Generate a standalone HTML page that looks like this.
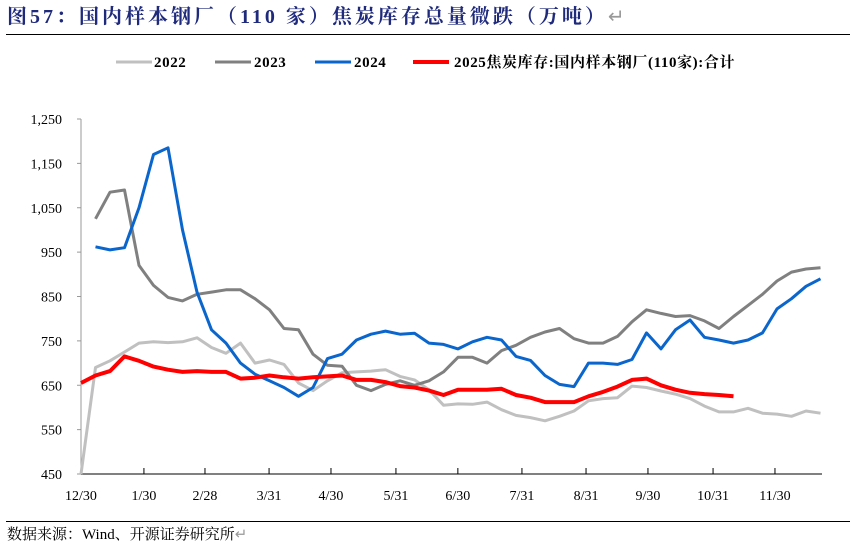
<!DOCTYPE html>
<html><head><meta charset="utf-8"><style>
body{margin:0;background:#fff;width:856px;height:545px;overflow:hidden;font-family:"Liberation Serif","Noto Serif CJK SC",serif}
#title{position:absolute;left:7px;top:0px;font-size:20px;font-weight:bold;color:#1f2a7c;white-space:nowrap;letter-spacing:3px}
#rule1{position:absolute;left:6px;top:34px;width:844px;height:1px;background:#000}
#rule2{position:absolute;left:6px;top:521px;width:844px;height:1px;background:#000}
#src{position:absolute;left:7px;top:523px;font-size:15px;color:#000;white-space:nowrap}
</style></head><body>
<div id="title">图57：国内样本钢厂（110 家）焦炭库存总量微跌（万吨）<span style="color:#999;font-weight:normal">↵</span></div>
<div id="rule1"></div>
<svg id="chart" width="856" height="545" style="position:absolute;left:0;top:0"></svg>
<div id="rule2"></div>
<div id="src">数据来源：Wind、开源证券研究所<span style="color:#999">↵</span></div>
<script>
const s2022=[450,690,705,725,745,748,746,748,757,735,722,745,700,707,697,655,638,660,678,680,682,685,670,662,640,605,608,607,612,595,582,577,570,580,592,615,620,622,648,645,637,630,620,603,590,590,598,587,585,580,592,587];
const s2023=[null,1025,1085,1090,920,875,848,840,855,860,865,865,845,820,778,775,720,695,693,650,638,652,660,650,660,680,713,713,700,728,740,758,770,778,755,745,745,760,793,820,812,805,807,795,778,805,830,855,885,905,912,915];
const s2024=[null,962,955,960,1050,1170,1185,1000,860,775,745,700,675,660,645,625,645,710,720,752,765,772,765,767,745,742,732,748,758,752,715,706,672,652,647,700,700,697,708,768,732,775,797,758,752,745,752,768,822,845,873,890];
const s2025=[655,672,682,715,705,692,685,680,682,680,680,665,667,672,668,665,668,670,672,662,662,657,648,645,638,628,640,640,640,642,628,622,612,612,612,625,635,647,662,665,650,640,633,630,628,625];
const yTicks=[450,550,650,750,850,950,1050,1150,1250];
const yTickLabels=["450","550","650","750","850","950","1,050","1,150","1,250"];
const xTickPos=[0,4.34,8.55,12.97,17.24,21.72,25.99,30.41,34.83,39.1,43.59,47.86];
const xTickLabels=["12/30","1/30","2/28","3/31","4/30","5/31","6/30","7/31","8/31","9/30","10/31","11/30"];
const NS='http://www.w3.org/2000/svg';
const svg=document.getElementById('chart');
const X=i=>81+i*14.5;
const Y=v=>474-(v-450)*0.44375;
function mk(t,a){const e=document.createElementNS(NS,t);for(const k in a)e.setAttribute(k,a[k]);svg.appendChild(e);return e;}
let ax=mk('line',{x1:81,y1:474,x2:822,y2:474,stroke:'#000','stroke-width':1});


let ay=mk('line',{x1:81,y1:119,x2:81,y2:474,stroke:'#999','stroke-width':1});


yTicks.forEach((v,k)=>{
  const tk=mk('line',{x1:77,y1:Y(v),x2:81,y2:Y(v),stroke:'#999'});
  
  
  const t=mk('text',{x:62,y:Y(v)+5,'font-size':14,'text-anchor':'end','font-family':'Liberation Serif'});
  
  
  t.textContent=yTickLabels[k];
});
xTickPos.forEach((p,k)=>{
  if(k>0){const tk=mk('line',{x1:X(p),y1:474,x2:X(p),y2:468,stroke:'#000'});
  
  }
  const t=mk('text',{x:X(p),y:500,'font-size':14,'text-anchor':'middle','font-family':'Liberation Serif'});
  
  
  t.textContent=xTickLabels[k];
});
function line(arr,color,w,name){
  let d='';arr.forEach((v,i)=>{if(v==null)return;d+=(d?'L':'M')+X(i).toFixed(1)+','+Y(v).toFixed(1);});
  const p=mk('path',{d:d,fill:'none',stroke:color,'stroke-width':w,'stroke-linejoin':'round'});
  
  
}
line(s2022,'#c0c0c0',3,'series-2022');
line(s2023,'#808080',3,'series-2023');
line(s2024,'#0a66cc',3,'series-2024');
line(s2025,'#ff0000',4,'series-2025');
const leg=[['2022','#c0c0c0',116,150],['2023','#808080',215,250],['2024','#0a66cc',315,350],['2025焦炭库存:国内样本钢厂(110家):合计','#ff0000',413,450]];
leg.forEach(l=>{
  const ln=mk('line',{x1:l[2],y1:62,x2:l[2]+36,y2:62,stroke:l[1],'stroke-width':l[0].length>4?4:3});
  
  
  const t=mk('text',{x:l[3]+4,y:67,'font-size':15,'font-weight':'bold','letter-spacing':'0.6','font-family':'Liberation Serif, Noto Serif CJK SC, serif'});
  
  
  t.textContent=l[0];
});
</script>
</body></html>
